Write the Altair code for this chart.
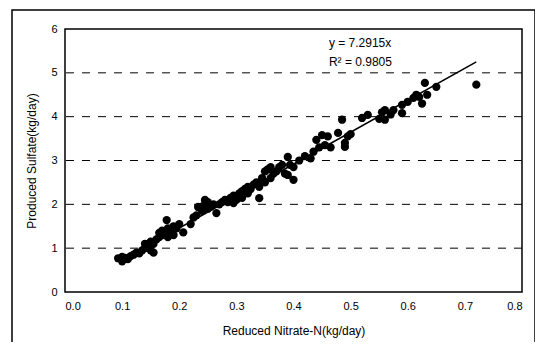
import altair as alt
import pandas as pd

nitrate = [0.093, 0.10, 0.10, 0.105, 0.11, 0.115, 0.12, 0.125, 0.13, 0.135,
           0.14, 0.14, 0.145, 0.15, 0.15, 0.155, 0.155, 0.16, 0.165, 0.165,
           0.17, 0.17, 0.175, 0.178, 0.18, 0.18, 0.185, 0.19, 0.19, 0.195,
           0.20, 0.207, 0.22, 0.225, 0.23, 0.233, 0.24, 0.24, 0.245, 0.245,
           0.25, 0.25, 0.255, 0.26, 0.265, 0.27, 0.275, 0.28, 0.285, 0.29,
           0.295, 0.295, 0.30, 0.305, 0.31, 0.31, 0.315, 0.32, 0.32, 0.325,
           0.33, 0.335, 0.34, 0.34, 0.345, 0.35, 0.35, 0.355, 0.36, 0.36,
           0.365, 0.37, 0.375, 0.38, 0.385, 0.39, 0.39, 0.394, 0.40, 0.40,
           0.41, 0.42, 0.43, 0.435, 0.44, 0.445, 0.45, 0.455, 0.46, 0.465,
           0.478, 0.485, 0.49, 0.49, 0.495, 0.50, 0.52, 0.53, 0.55, 0.555,
           0.56, 0.56, 0.57, 0.575, 0.59, 0.59, 0.60, 0.61, 0.615, 0.62,
           0.625, 0.63, 0.634, 0.65, 0.72]
sulfate = [0.77, 0.70, 0.80, 0.78, 0.75, 0.82, 0.85, 0.90, 0.88, 0.95,
           1.00, 1.10, 1.05, 1.15, 0.95, 0.90, 1.10, 1.20, 1.25, 1.35,
           1.30, 1.40, 1.35, 1.64, 1.45, 1.25, 1.40, 1.50, 1.30, 1.45,
           1.55, 1.36, 1.55, 1.70, 1.75, 1.94, 1.95, 1.85, 2.00, 2.10,
           1.90, 2.05, 1.95, 2.00, 1.80, 2.00, 2.05, 2.10, 2.05, 2.15,
           2.03, 2.20, 2.10, 2.25, 2.30, 2.15, 2.35, 2.40, 2.25, 2.35,
           2.45, 2.50, 2.14, 2.40, 2.60, 2.50, 2.75, 2.80, 2.60, 2.85,
           2.70, 2.75, 2.85, 2.90, 2.70, 3.08, 2.67, 2.90, 2.85, 2.56,
           3.00, 3.10, 3.05, 3.20, 3.47, 3.30, 3.58, 3.35, 3.55, 3.30,
           3.63, 3.93, 3.40, 3.31, 3.55, 3.60, 3.97, 4.04, 3.95, 4.10,
           4.15, 3.93, 4.05, 4.15, 4.27, 4.08, 4.34, 4.43, 4.50, 4.45,
           4.30, 4.77, 4.50, 4.68, 4.73]

slope = 7.2915
line_x = [0.095, 0.72]

pts = pd.DataFrame({"x": nitrate, "y": sulfate})
fit = pd.DataFrame({"x": line_x, "y": [slope * v for v in line_x]})
labels = pd.DataFrame({"x": [0.462, 0.462], "y": [5.68, 5.25],
                       "t": ["y = 7.2915x", "R² = 0.9805"]})

xs = alt.Scale(domain=[0, 0.8], nice=False)
ys = alt.Scale(domain=[0, 6], nice=False)

xax = alt.Axis(values=[0, 0.1, 0.2, 0.3, 0.4, 0.5, 0.6, 0.7, 0.8], format=".1f",
               grid=False, ticks=False, labelPadding=8, titlePadding=14,
               domain=False)
yax = alt.Axis(values=[0, 1, 2, 3, 4, 5, 6], grid=False, ticks=False,
               labelPadding=8, titlePadding=12, domain=False)

grid = alt.Chart(pd.DataFrame({"g": [1, 2, 3, 4, 5]})).mark_rule(
    color="black", strokeDash=[8, 8], strokeWidth=1
).encode(y=alt.Y("g:Q", scale=ys))

scatter = alt.Chart(pts).mark_circle(size=68, color="black", opacity=1).encode(
    x=alt.X("x:Q", scale=xs, axis=xax, title="Reduced Nitrate-N(kg/day)"),
    y=alt.Y("y:Q", scale=ys, axis=yax, title="Produced Sulfate(kg/day)"),
)

line = alt.Chart(fit).mark_line(color="black", strokeWidth=1.6).encode(
    x=alt.X("x:Q", scale=xs), y=alt.Y("y:Q", scale=ys)
)

text = alt.Chart(labels).mark_text(align="left", baseline="middle", fontSize=12,
                                   font="Liberation Sans", color="black").encode(
    x=alt.X("x:Q", scale=xs), y=alt.Y("y:Q", scale=ys), text="t:N"
)

frame = alt.Chart(pd.DataFrame({"a": [0]})).mark_rect(
    fill=None, stroke="black", strokeWidth=1.5
).encode(x=alt.value(-53), x2=alt.value(470), y=alt.value(-19), y2=alt.value(316))

chart = alt.layer(frame, grid, line, scatter, text).properties(
    width=457, height=263,
    padding={"left": 57, "top": 21, "right": 13, "bottom": 50},
    autosize=alt.AutoSizeParams(type="none"),
).configure_view(stroke="black", strokeWidth=1.5).configure_axis(
    labelFont="Liberation Sans", titleFont="Liberation Sans",
    labelFontSize=11, titleFontSize=12, titleFontWeight="normal",
    labelColor="black", titleColor="black"
)

chart.save("out.html", embed_options={"renderer": "svg", "actions": False})
